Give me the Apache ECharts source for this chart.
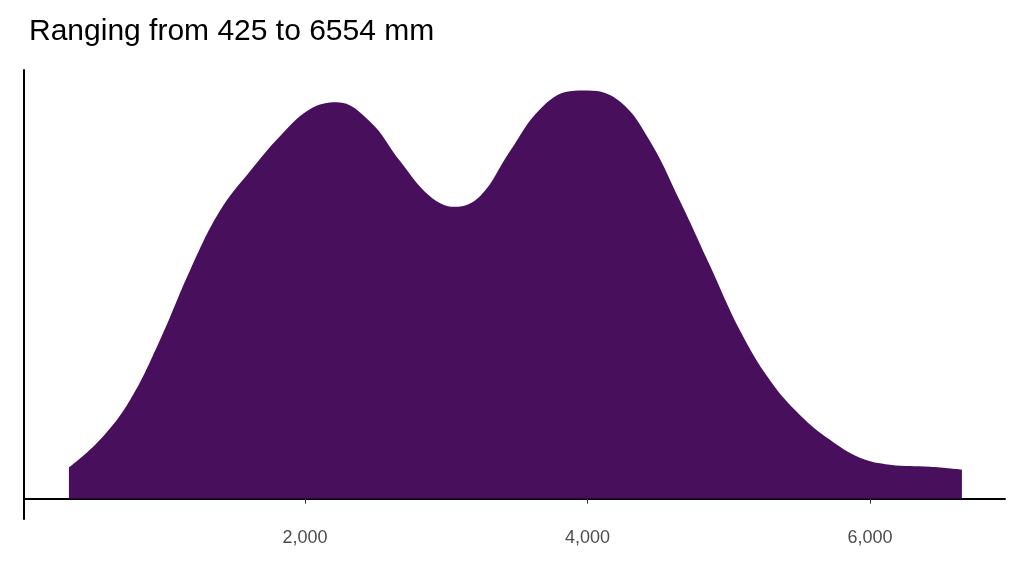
<!DOCTYPE html>
<html><head><meta charset="utf-8">
<script src="https://cdn.jsdelivr.net/npm/echarts@6/dist/echarts.min.js"></script>
<style>html,body{margin:0;padding:0;background:#fff}#c{width:1024px;height:576px}</style>
</head><body><div id="c"></div>
<script>
// density estimate (x in mm, y relative to peak)
var xs = [329, 549, 761, 973, 1186, 1398, 1611, 1823, 2035, 2227, 2460, 2673, 2885, 3062, 3239, 3451, 3664, 3876, 4004, 4230, 4442, 4655, 4867, 5080, 5292, 5504, 5717, 5929, 6142, 6425, 6651];
var ys = [0.076, 0.144, 0.241, 0.388, 0.559, 0.705, 0.802, 0.888, 0.954, 0.971, 0.924, 0.827, 0.741, 0.715, 0.741, 0.851, 0.954, 0.998, 1.0, 0.973, 0.876, 0.729, 0.571, 0.412, 0.290, 0.205, 0.144, 0.100, 0.083, 0.078, 0.071];
var xTicks = [2000, 4000, 6000];

var chart = echarts.init(document.getElementById('c'));
chart.setOption({
  animation: false,
  title: {
    text: 'Ranging from 425 to 6554 mm',
    left: 24, top: 12,
    textStyle: {fontFamily: 'Liberation Sans, Arial', fontSize: 30, fontWeight: 'normal', color: '#000'}
  },
  grid: {left: 24, right: 19, top: 70, bottom: 57},
  xAxis: {
    type: 'value', min: 11, max: 6956,
    axisLine: {lineStyle: {color: '#000', width: 2}},
    axisTick: {show: true, customValues: xTicks, length: 5, lineStyle: {color: '#333'}},
    axisLabel: {customValues: xTicks, fontSize: 18, color: '#4d4d4d', margin: 10, fontFamily: 'Liberation Sans, Arial'},
    splitLine: {show: false}
  },
  yAxis: {
    type: 'value', min: -0.05, max: 1.05,
    axisLine: {show: true, lineStyle: {color: '#000', width: 2}},
    axisTick: {show: false}, axisLabel: {show: false}, splitLine: {show: false}
  },
  series: [{
    type: 'line', smooth: 0.4, symbol: 'none',
    data: xs.map(function (x, i) { return [x, ys[i]]; }),
    lineStyle: {width: 0},
    areaStyle: {color: '#470F5C', opacity: 1}
  }]
});
</script></body></html>
